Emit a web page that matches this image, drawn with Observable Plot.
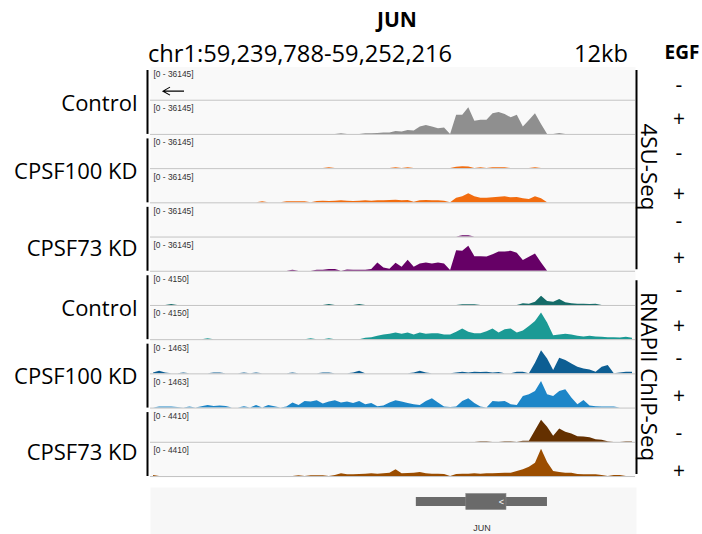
<!DOCTYPE html>
<html><head><meta charset="utf-8">
<script src="https://cdn.jsdelivr.net/npm/d3@7"></script>
<script src="https://cdn.jsdelivr.net/npm/@observablehq/plot@0.6"></script>
<style>
html,body{margin:0;padding:0;background:#fff;}
#root{position:relative;width:702px;height:534px;overflow:hidden;font-family:"Open Sans",sans-serif;}
#root > svg{position:absolute;left:0;}
</style></head><body><div id="root"></div>
<script>
// ---------------- data ----------------
const region = {chrom: "chr1", start: 59239788, end: 59252216};
const title = "JUN";
const spanLabel = "12kb";
const egfHeader = "EGF";
const assays = ["4SU-Seq", "RNAPII ChIP-Seq"];
const conditions = ["Control", "CPSF100 KD", "CPSF73 KD", "Control", "CPSF100 KD", "CPSF73 KD"];
const trackIds = ["4SU Control -", "4SU Control +", "4SU CPSF100 -", "4SU CPSF100 +", "4SU CPSF73 -", "4SU CPSF73 +",
                  "Pol2 Control -", "Pol2 Control +", "Pol2 CPSF100 -", "Pol2 CPSF100 +", "Pol2 CPSF73 -", "Pol2 CPSF73 +"];
const egf = ["-", "+", "-", "+", "-", "+", "-", "+", "-", "+", "-", "+"];
const dataRanges = [36145, 36145, 36145, 36145, 36145, 36145, 4150, 4150, 1463, 1463, 4410, 4410];
const trackColors = ["#8f8f8f", "#8f8f8f", "#f26c0f", "#f26c0f", "#660066", "#660066",
                     "#146b68", "#1b9a95", "#0d5e93", "#1d86c8", "#643000", "#9b4d00"];
// coverage per bin (80 equal bins over the region), % of track data range
const t1 = [0,0,0,0,0,0,0,0,0,0, 0,0,0,0,0,0,0,0,0,0, 0,0,0,0,0,0,0,0,0,0, 0,0,0,0,0,0,0,0,0,0,
            0,0,0,0,0,0,0,0,0,0, 0,0,0,0,0,0,0,0,0,0, 0,0,0,0,0,0,0,0,0,0, 0,0,0,0,0,0,0,0,0,0];
const t2 = [0,0,0,0,0,0,0,0,0,0, 0,0,0,0,0,0,0,0,0,0, 0,0,0,0,0,0,0,0,0,0, 0,2,0,0,0,2,2,3,4,4,
            9,7,12,10,22,27,22,17,19,0, 58,58,80,40,43,43,62,66,60,50, 58,22,42,62,30,0,0,3,0,0, 0,0,0,0,0,0,0,0,0,0];
const t3 = [0,0,0,0,0,0,0,0,0,0, 0,0,0,0,0,0,0,0,0,0, 0,0,0,0,0,0,0,0,0,3, 0,0,0,0,0,0,0,0,0,0,
            3,0,3,0,0,0,0,0,0,0, 4,6,5,0,3,0,3,3,3,0, 0,0,0,3,0,0,0,0,0,0, 0,0,0,0,0,0,0,0,0,0];
const t4 = [0,0,0,0,0,0,0,0,0,0, 0,0,0,0,0,0,0,0,3,0, 0,0,3,3,3,3,0,4,5,4, 5,6,5,4,5,6,5,6,6,7,
            8,6,7,2,6,7,6,6,5,0, 14,18,27,18,14,14,15,17,18,15, 16,12,10,18,12,0,0,0,0,0, 0,0,0,0,0,0,0,0,0,0];
const t5 = [0,0,0,0,0,0,0,0,0,0, 0,0,0,0,0,0,0,0,0,0, 0,0,0,0,0,0,0,0,0,0, 0,0,0,0,0,0,0,0,0,0,
            0,0,0,0,0,0,0,0,0,0, 0,4,4,0,0,0,0,0,0,0, 0,0,0,0,0,0,0,0,0,0, 0,0,0,0,0,0,0,0,0,0];
const t6 = [0,0,0,0,0,0,0,0,0,0, 0,0,0,0,0,0,0,0,0,0, 0,0,0,3,0,0,0,3,3,5, 5,0,4,3,3,3,5,25,10,6,
            24,12,33,12,22,25,22,25,22,2, 62,60,75,44,44,43,50,58,58,60, 54,32,42,52,25,0,0,0,0,0, 0,0,0,0,0,0,0,0,0,0];
const t7 = [0,0,0,3,0,0,0,0,0,0, 0,0,0,0,0,0,0,0,0,0, 0,0,0,0,0,0,0,0,0,3, 0,0,0,0,3,0,0,0,0,0,
            0,0,0,0,0,0,0,0,0,0, 0,2,2,2,0,0,0,0,0,0, 0,5,4,10,28,12,10,18,8,5, 4,4,3,4,0,0,0,0,0,0];
const t8 = [0,0,0,0,0,0,0,0,0,3, 0,0,0,0,0,0,0,0,0,0, 0,0,0,0,0,0,3,0,0,3, 0,0,0,0,0,4,6,10,14,16,
            20,16,20,14,20,16,18,18,14,14, 22,32,22,18,18,24,32,20,30,32, 20,26,40,55,80,50,12,14,16,14, 10,8,10,8,7,6,6,5,7,4];
const t9 = [3,8,3,0,0,3,0,0,0,0, 3,3,0,0,0,3,0,3,0,0, 0,0,0,3,0,0,0,0,3,3, 0,0,0,3,8,0,0,0,0,0,
            0,0,0,3,8,3,0,0,0,0, 3,5,3,5,4,5,3,4,0,0, 5,5,0,32,70,45,10,47,40,30, 20,15,12,5,20,25,0,3,5,5];
const t10 = [0,3,3,3,2,0,3,0,4,8, 5,6,5,0,0,4,0,8,0,8, 4,0,3,15,8,20,18,22,12,18, 22,15,18,14,20,10,14,4,6,15,
             22,18,14,10,8,20,28,15,3,2, 3,20,28,14,3,0,20,18,20,10, 8,35,40,50,80,40,35,50,55,30, 10,23,6,4,3,3,3,0,0,0];
const t11 = [0,0,0,0,0,0,0,0,0,0, 0,0,0,0,0,0,0,0,0,0, 0,0,0,0,0,0,0,0,0,0, 0,0,0,0,0,0,0,0,0,0,
             0,0,0,0,0,0,0,0,0,0, 0,0,0,0,2,2,0,0,2,2, 0,3,3,35,66,45,18,40,30,25, 17,16,14,8,6,2,0,0,2,2];
const t12 = [3,0,0,0,0,0,0,0,0,0, 0,0,0,0,0,0,0,0,0,0, 0,0,0,0,2,0,2,2,2,0, 3,8,5,5,6,7,8,7,8,10,
             20,8,9,10,12,8,7,7,6,0, 6,7,7,8,7,8,8,9,10,10, 15,20,28,40,82,42,15,12,10,10, 6,5,5,5,3,0,3,3,0,0];
const signals = [t1, t2, t3, t4, t5, t6, t7, t8, t9, t10, t11, t12];
const gene = [{name: "JUN", start: 59246600, end: 59249960, cdsStart: 59247880, cdsEnd: 59248910, strand: "-"}];

// ---------------- layout ----------------
const W = 702, H = 534;
const L = 150, R = 635, T = 66.5, B = 477;
const nT = trackIds.length, tH = (B - T) / nT;
const geneTop = 487;
const font = "Open Sans";

const root = document.getElementById("root");

// tracks
const nb = t1.length, step = (region.end - region.start) / nb;
const rows = [];
signals.forEach((arr, t) => arr.forEach((v, i) => rows.push({track: trackIds[t], pos: region.start + (i + 0.5) * step, v})));
const meta = trackIds.map((id, i) => ({id, range: dataRanges[i]}));

const tracks = Plot.plot({
  width: W, height: H,
  marginLeft: L, marginRight: W - R, marginTop: T, marginBottom: H - B,
  style: {background: "transparent", overflow: "visible"},
  x: {domain: [region.start, region.end], axis: null},
  y: {domain: [0, 100], axis: null, insetBottom: 1},
  fy: {domain: trackIds, axis: null, padding: 0, round: false},
  color: {domain: trackIds, range: trackColors},
  marks: [
    Plot.frame({fill: "#f9f9f9", stroke: "none"}),
    Plot.areaY(rows, {x: "pos", y: "v", fy: "track", fill: "track", curve: "linear"}),
    Plot.ruleY([0], {stroke: "#c4c4c4", strokeWidth: 1}),
    Plot.text(meta, {fy: "id", text: d => `[0 - ${d.range}]`, frameAnchor: "top-left", lineAnchor: "top",
                     dx: 3, dy: 4, fontSize: 8.4, fill: "#333", fontFamily: "Liberation Sans"})
  ]
});
tracks.style.top = "0px";
root.appendChild(tracks);

// gene track
const geneH = H - geneTop;
const genePlot = Plot.plot({
  width: W, height: geneH,
  marginLeft: L, marginRight: W - R, marginTop: 0, marginBottom: 0,
  style: {background: "transparent", overflow: "visible"},
  x: {domain: [region.start, region.end], axis: null},
  marks: [
    Plot.frame({fill: "#f7f7f7", stroke: "none", insetRight: -1}),
    Plot.rect(gene, {x1: "start", x2: "end", insetTop: 10, insetBottom: 28, fill: "#6a6a6a"}),
    Plot.rect(gene, {x1: "cdsStart", x2: "cdsEnd", insetTop: 6.5, insetBottom: 24.5, fill: "#6a6a6a", stroke: "#888", strokeWidth: 0.6}),
    Plot.text(gene, {x: "cdsEnd", text: d => d.strand === "-" ? "<" : ">", dx: -5, frameAnchor: "top", lineAnchor: "middle", dy: 14.5,
                     fontSize: 9, fill: "#fff", fontFamily: "Liberation Sans"}),
    Plot.text(gene, {x: d => (d.start + d.end) / 2, text: "name", frameAnchor: "bottom", lineAnchor: "bottom", dy: -4,
                     fontSize: 9, fill: "#333", fontFamily: "Liberation Sans"})
  ]
});
genePlot.style.top = geneTop + "px";
root.appendChild(genePlot);

// annotation overlay
const svg = d3.select(root).append("svg").attr("width", W).attr("height", H).style("top", "0px")
  .attr("font-family", font).attr("fill", "#000");

// strand direction arrow in the first track (gene on minus strand)
{
  const ay = T + tH * 0.72, ax0 = L + 13, ax1 = L + 34;
  svg.append("path").attr("d", `M${ax1},${ay}H${ax0}M${ax0 + 7},${ay - 4}L${ax0},${ay}L${ax0 + 7},${ay + 4}`)
    .attr("fill", "none").attr("stroke", "#000").attr("stroke-width", 1.1);
}

svg.append("text").attr("x", 397).attr("y", 27).attr("text-anchor", "middle")
  .attr("font-size", 21).attr("font-weight", 700).text(title);
svg.append("text").attr("x", 148).attr("y", 62).attr("font-size", 23.7)
  .text(`${region.chrom}:${d3.format(",")(region.start)}-${d3.format(",")(region.end)}`);
svg.append("text").attr("x", 628).attr("y", 62).attr("text-anchor", "end").attr("font-size", 23.7).text(spanLabel);
svg.append("text").attr("x", 682).attr("y", 59).attr("text-anchor", "middle")
  .attr("font-size", 19).attr("font-weight", 700).text(egfHeader);

// condition labels and group bars
const labelBaselines = [110.5, 179, 255.7, 316, 384, 460];
conditions.forEach((c, i) => {
  svg.append("text").attr("x", 137.5).attr("y", labelBaselines[i]).attr("text-anchor", "end")
    .attr("font-size", 22).text(c);
  const y0 = T + 2 * i * tH + 3.5, y1 = T + (2 * i + 2) * tH - 1;
  svg.append("rect").attr("x", 146.5).attr("y", y0).attr("width", 2).attr("height", y1 - y0).attr("fill", "#000");
});

// assay brackets and rotated labels
const assaySpans = [[T + 3.5, T + 6 * tH - 2.5], [T + 6 * tH + 8.5, B - 3]];
const assayCenters = [167, 376.5];
assays.forEach((a, i) => {
  const [y0, y1] = assaySpans[i];
  svg.append("rect").attr("x", 635.5).attr("y", y0).attr("width", 2).attr("height", y1 - y0).attr("fill", "#000");
  svg.append("text").attr("transform", `translate(641,${assayCenters[i]}) rotate(90)`)
    .attr("text-anchor", "middle").attr("font-size", 22.3).text(a);
});

// EGF signs
const signCenters = [87, 118, 155, 193, 223, 257, 292, 325, 360, 395, 435, 470];
egf.forEach((s, i) => {
  svg.append("text").attr("x", 679).attr("y", signCenters[i] + (s === "+" ? 7.5 : 5.4))
    .attr("text-anchor", "middle").attr("font-size", 21).text(s);
});
</script>
</body></html>
